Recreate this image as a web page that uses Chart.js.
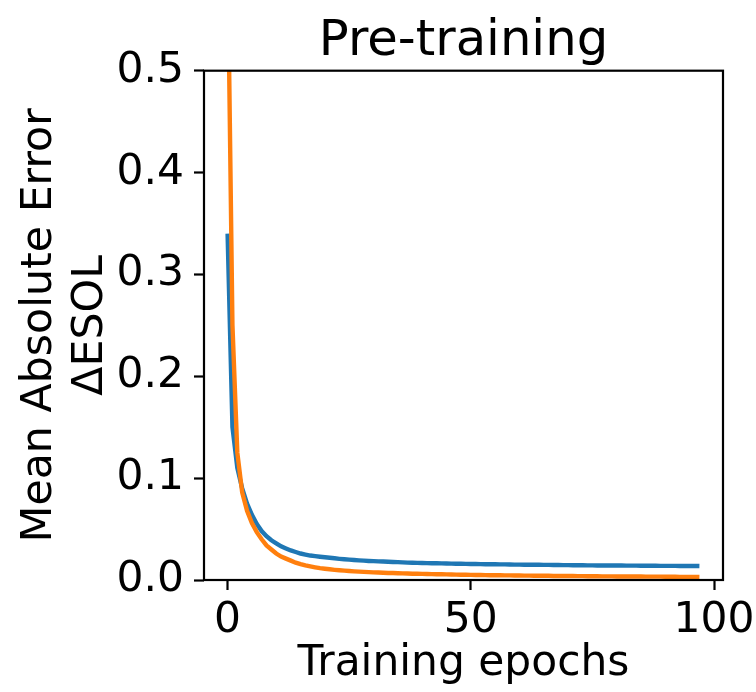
<!DOCTYPE html>
<html>
<head>
<meta charset="utf-8">
<script src="https://cdn.jsdelivr.net/npm/chart.js@4"></script>
<style>
  html, body { margin: 0; padding: 0; background: #ffffff; }
  #wrap { width: 756px; height: 692px; }
</style>
</head>
<body>
<div id="wrap"><canvas id="c" width="756" height="692"></canvas></div>
<script>
const chartTitle = "Pre-training";
const xAxisTitle = "Training epochs";
const yAxisTitle = ["Mean Absolute Error", "ΔESOL"];

const epochs = [
  0,1,2,3,4,5,6,7,8,9,10,11,12,13,14,15,16,17,18,19,
  20,21,22,23,24,25,26,27,28,29,30,31,32,33,34,35,36,37,38,39,
  40,41,42,43,44,45,46,47,48,49,50,51,52,53,54,55,56,57,58,59,
  60,61,62,63,64,65,66,67,68,69,70,71,72,73,74,75,76,77,78,79,
  80,81,82,83,84,85,86,87,88,89,90,91,92,93,94,95,96,97
];

const blueSeries = [
  0.340,0.150,0.110,0.090,0.075,0.064,0.055,0.048,0.043,0.039,
  0.036,0.033,0.031,0.029,0.0275,0.026,0.025,0.024,0.0234,0.0228,
  0.0223,0.0218,0.0213,0.0208,0.0204,0.0200,0.0196,0.0193,0.0190,0.0187,
  0.0185,0.0183,0.0181,0.0179,0.0177,0.0175,0.0173,0.0171,0.0170,0.0168,
  0.0167,
  0.0166,0.0165,0.0164,0.0163,0.0162,0.0161,0.0160,0.0159,0.0158,0.0157,
  0.0157,0.0156,0.0155,0.0155,0.0154,0.0153,0.0153,0.0152,0.0151,0.0151,
  0.0150,0.0150,0.0149,0.0149,0.0148,0.0148,0.0147,0.0147,0.0146,0.0146,
  0.0145,0.0145,0.0145,0.0144,0.0144,0.0143,0.0143,0.0143,0.0142,0.0142,
  0.0142,0.0141,0.0141,0.0141,0.0140,0.0140,0.0140,0.0140,0.0139,0.0139,
  0.0139,0.0139,0.0138,0.0138,0.0138,0.0138,0.0137
];

const orangeSeries = [
  0.620,0.250,0.125,0.086,0.068,0.056,0.047,0.040,0.034,0.030,
  0.026,0.023,0.021,0.019,0.017,0.0155,0.0143,0.0133,0.0124,0.0116,
  0.0110,0.0105,0.0100,0.0096,0.0092,0.0088,0.0085,0.0082,0.0080,0.0077,
  0.0075,0.0073,0.0071,0.0069,0.0068,0.0066,0.0065,0.0064,0.0062,0.0061,
  0.0060,
  0.0059,0.0058,0.0057,0.0056,0.0055,0.0054,0.0053,0.0052,0.0051,0.0050,
  0.0049,0.0049,0.0048,0.0047,0.0047,0.0046,0.0045,0.0045,0.0044,0.0044,
  0.0043,0.0043,0.0042,0.0042,0.0041,0.0041,0.0040,0.0040,0.0039,0.0039,
  0.0039,0.0038,0.0038,0.0037,0.0037,0.0037,0.0036,0.0036,0.0036,0.0035,
  0.0035,0.0035,0.0034,0.0034,0.0034,0.0033,0.0033,0.0033,0.0033,0.0032,
  0.0032,0.0032,0.0031,0.0031,0.0031,0.0031,0.0030
];

const xTicks = [0, 50, 100];
const yTicks = [0.0, 0.1, 0.2, 0.3, 0.4, 0.5];

const FONT = "'DejaVu Sans', 'Liberation Sans', sans-serif";

function toPoints(xs, ys) {
  return xs.map((x, i) => ({ x: x, y: ys[i] }));
}

const framePlugin = {
  id: 'frame',
  afterDatasetsDraw(chart) {
    const { ctx, chartArea: a } = chart;
    ctx.save();
    ctx.strokeStyle = '#000000';
    ctx.lineWidth = 2.2;
    ctx.strokeRect(a.left, a.top, a.right - a.left, a.bottom - a.top);
    ctx.restore();
  }
};

new Chart(document.getElementById('c'), {
  type: 'line',
  data: {
    datasets: [
      {
        label: 'orange',
        data: toPoints(epochs, orangeSeries),
        borderColor: '#ff7f0e',
        backgroundColor: '#ff7f0e',
        borderWidth: 4.4,
        pointRadius: 0,
        tension: 0,
        fill: false,
        clip: 0,
        order: 0
      },
      {
        label: 'blue',
        data: toPoints(epochs, blueSeries),
        borderColor: '#1f77b4',
        backgroundColor: '#1f77b4',
        borderWidth: 4.4,
        pointRadius: 0,
        tension: 0,
        fill: false,
        clip: 0,
        order: 1
      }
    ]
  },
  options: {
    responsive: false,
    animation: false,
    devicePixelRatio: 1,
    layout: { padding: { left: 0, right: 33, top: 0, bottom: 0 } },
    plugins: {
      legend: { display: false },
      tooltip: { enabled: false },
      title: {
        display: true,
        fullSize: false,
        align: 'center',
        text: chartTitle,
        color: '#000000',
        font: { family: FONT, size: 49.7, weight: 'normal', lineHeight: 1 },
        padding: { top: 17.5, bottom: 3.5 }
      }
    },
    scales: {
      x: {
        type: 'linear',
        min: -4.85,
        max: 101.85,
        afterBuildTicks: (s) => { s.ticks = xTicks.map(v => ({ value: v })); },
        afterFit: (s) => { s.height = 112; s.paddingLeft = 0; s.paddingRight = 0; },
        border: { display: false },
        grid: {
          display: true,
          drawOnChartArea: false,
          drawTicks: true,
          tickLength: 10,
          tickWidth: 2.2,
          tickColor: '#000000',
          color: '#000000'
        },
        ticks: {
          color: '#000000',
          padding: 6,
          maxRotation: 0,
          font: { family: FONT, size: 42.4 },
          callback: (v) => String(v)
        },
        title: {
          display: true,
          text: xAxisTitle,
          color: '#000000',
          font: { family: FONT, size: 42.4, lineHeight: 1.2 },
          padding: { top: 0, bottom: 2.6 }
        }
      },
      y: {
        type: 'linear',
        min: 0,
        max: 0.5,
        afterBuildTicks: (s) => { s.ticks = yTicks.map(v => ({ value: v })); },
        afterFit: (s) => { s.width = 204; s.paddingTop = 0; s.paddingBottom = 0; },
        border: { display: false },
        grid: {
          display: true,
          drawOnChartArea: false,
          drawTicks: true,
          tickLength: 10,
          tickWidth: 2.2,
          tickColor: '#000000',
          color: '#000000'
        },
        ticks: {
          color: '#000000',
          padding: 10,
          font: { family: FONT, size: 42.4 },
          callback: (v) => Number(v).toFixed(1)
        },
        title: {
          display: true,
          text: yAxisTitle,
          color: '#000000',
          font: { family: FONT, size: 42.7, lineHeight: 1.21 },
          padding: { top: 13.7, bottom: 0 }
        }
      }
    }
  },
  plugins: [framePlugin]
});
</script>
</body>
</html>
